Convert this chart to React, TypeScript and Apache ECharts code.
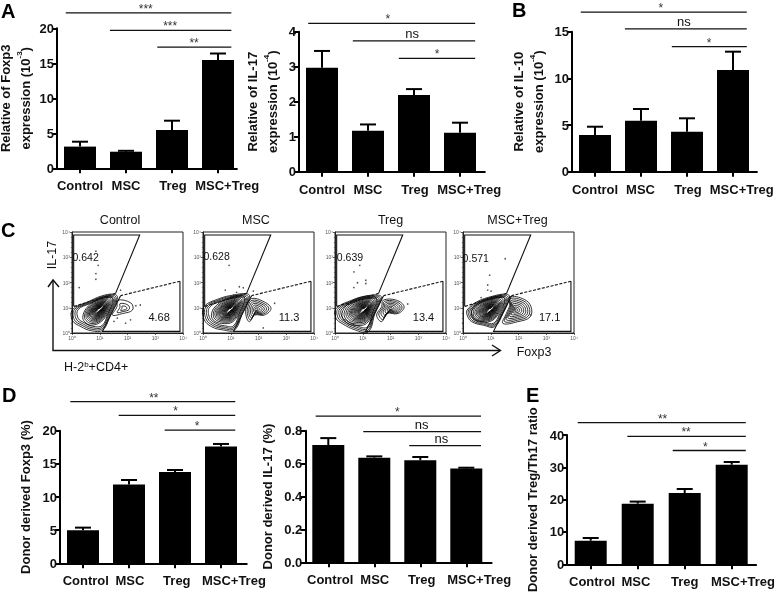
import React, { useEffect, useRef } from "react";
import * as echarts from "echarts";

const FONT = "'Liberation Sans', Arial, sans-serif";
const categories = ["Control", "MSC", "Treg", "MSC+Treg"];
const ticks = [0, 1, 2, 3];

// ---- bar panels: means and upper error tops
const foxp3Mean = [3.1, 2.37, 5.47, 15.47];
const foxp3Top = [3.8, 2.5, 6.8, 16.4];
const il17Mean = [2.97, 1.17, 2.19, 1.11];
const il17Top = [3.45, 1.35, 2.36, 1.4];
const il10Mean = [3.93, 5.47, 4.29, 10.9];
const il10Top = [4.82, 6.72, 5.72, 12.86];
const donorFoxp3Mean = [5.0, 11.9, 13.77, 17.6];
const donorFoxp3Top = [5.38, 12.56, 14.07, 18.0];
const donorIl17Mean = [0.713, 0.636, 0.62, 0.57];
const donorIl17Top = [0.755, 0.644, 0.64, 0.575];
const ratioMean = [7.3, 18.76, 22.06, 30.8];
const ratioTop = [8.14, 19.4, 23.3, 31.65];

// ---- significance brackets: [from, to, value, label, labelX]
const foxp3Sig = [[-0.31, 3.29, 22.2, "***", 1.43], [0.65, 3.29, 19.7, "***", 1.96], [1.68, 3.29, 17.3, "**", 2.48]];
const il17Sig = [[-0.3, 3.33, 4.24, "*", 1.43], [0.67, 3.33, 3.74, "ns", 1.96], [1.67, 3.33, 3.24, "*", 2.5]];
const il10Sig = [[-0.31, 3.3, 17.1, "*", 1.43], [0.65, 3.3, 15.3, "ns", 1.93], [1.67, 3.3, 13.4, "*", 2.48]];
const donorFoxp3Sig = [[-0.275, 3.31, 24.4, "**", 1.54], [0.775, 3.31, 22.3, "*", 2.01], [1.775, 3.31, 20.1, "*", 2.48]];
const donorIl17Sig = [[-0.275, 3.32, 0.889, "*", 1.5], [0.76, 3.32, 0.794, "ns", 2.03], [1.76, 3.32, 0.709, "ns", 2.46]];
const ratioSig = [[-0.277, 3.3, 43.8, "**", 1.53], [0.78, 3.3, 39.6, "**", 2.03], [1.745, 3.3, 35.2, "*", 2.44]];

const panels = [
  { left: 57, top: 28.3, unit: 46, xMax: 3.41, h: 140, yMax: 20, yStep: 5, digits: 0, mean: foxp3Mean, errTop: foxp3Top, sig: foxp3Sig, labelAt: [0, 1, 2.02, 3.2], gap: 20, title: "Relative of Foxp3\n{a|expression (10}{s|-3}{a|)}" },
  { left: 299, top: 31.7, unit: 46, xMax: 3.54, h: 140, yMax: 4, yStep: 1, digits: 0, mean: il17Mean, errTop: il17Top, sig: il17Sig, labelAt: [0, 1, 2.02, 3.2], gap: 17, title: "Relative of IL-17\n{a|expression (10}{s|-4}{a|)}" },
  { left: 572, top: 31.7, unit: 46, xMax: 3.52, h: 140, yMax: 15, yStep: 5, digits: 0, mean: il10Mean, errTop: il10Top, sig: il10Sig, labelAt: [0, 0.99, 2.02, 3.19], gap: 24, title: "Relative of IL-10\n{a|expression (10}{s|-4}{a|)}" },
  { left: 60, top: 430.7, unit: 46, xMax: 3.56, h: 132.6, yMax: 20, yStep: 5, digits: 0, mean: donorFoxp3Mean, errTop: donorFoxp3Top, sig: donorFoxp3Sig, labelAt: [0.06, 1.02, 2.04, 3.28], gap: 25, title: "Donor derived Foxp3 (%)" },
  { left: 305.3, top: 430.7, unit: 46, xMax: 3.55, h: 131.6, yMax: 0.8, yStep: 0.2, digits: 1, mean: donorIl17Mean, errTop: donorIl17Top, sig: donorIl17Sig, labelAt: [0.04, 1.01, 2.03, 3.28], gap: 28, title: "Donor derived IL-17 (%)" },
  { left: 567.2, top: 435, unit: 47, xMax: 3.52, h: 129.3, yMax: 40, yStep: 10, digits: 0, mean: ratioMean, errTop: ratioTop, sig: ratioSig, labelAt: [0.03, 0.96, 2, 3.24], gap: 25, title: "Donor derived Treg/Th17 ratio" },
];

// ---- flow cytometry panels, all in log10 decades
const decadeTicks = ["10⁰", "10¹", "10²", "10³", "10⁴"];
const upperGate = [[0.06, 1.05], [0.06, 3.88], [2.44, 3.88], [1.57, 1.57]];
const upperGateLow = [[1.57, 1.57], [0.06, 1.05]];
const lowerGate = [[1.75, 1.48], [1.1, 0.065], [3.89, 0.065], [3.89, 2.05]];
const lowerGateTop = [[3.89, 2.05], [1.75, 1.48]];

const outerScales = [1, 0.93, 0.86, 0.79];
const innerScales = [1, 0.9, 0.81, 0.73, 0.66, 0.6, 0.55, 0.5, 0.45, 0.41, 0.37, 0.33, 0.29, 0.25, 0.22, 0.19, 0.16, 0.13, 0.1];

const controlOuter = [[0.02, 0.93], [0.57, 1.23], [1.05, 1.46], [1.52, 1.54], [1.64, 1.4], [1.4, 0.77], [1.11, 0.12], [0.69, 0.09], [0.33, 0.25], [0.02, 0.49]];
const controlInner = [[0.39, 0.64], [0.51, 0.97], [0.87, 1.3], [1.35, 1.46], [1.46, 1.33], [1.35, 0.91], [1.05, 0.45], [0.69, 0.31], [0.45, 0.45]];
const controlRight = [[1.64, 1.3], [2.12, 1.19], [2.18, 0.91], [1.82, 0.77], [1.46, 0.71], [1.62, 1.04]];
const controlDots = [[0.86, 3.24], [0.94, 2.68], [0.86, 2.35], [0.86, 2.13], [0.26, 1.8], [1.63, 0.59], [1.93, 0.39], [2.46, 1.11], [2.11, 0.52], [1.51, 0.46], [1.75, 1.7], [2.3, 1.08]];

const mscOuter = [[0.04, 1.04], [0.61, 1.37], [1.08, 1.5], [1.56, 1.56], [1.68, 1.46], [1.44, 0.84], [1.14, 0.12], [0.73, 0.12], [0.31, 0.25], [0.04, 0.54]];
const mscInner = [[0.31, 0.78], [0.49, 1.1], [0.9, 1.37], [1.38, 1.5], [1.5, 1.37], [1.38, 0.97], [1.08, 0.45], [0.67, 0.38], [0.37, 0.51]];
const mscRight = [[1.74, 1.36], [2.21, 1.23], [2.45, 0.97], [2.21, 0.71], [1.86, 0.71], [1.68, 0.45], [1.56, 0.64], [1.56, 1.04]];
const mscDots = [[0.94, 2.68], [0.8, 1.7], [1.31, 1.83], [1.45, 1.79], [1.21, 1.61], [1.81, 1.66], [2.58, 1.18], [2.17, 0.2], [1.1, 1.5]];

const tregOuter = [[0.04, 0.97], [0.61, 1.3], [1.08, 1.46], [1.56, 1.5], [1.68, 1.4], [1.44, 0.77], [1.2, 0.05], [0.73, 0.12], [0.25, 0.38], [0.04, 0.58]];
const tregInner = [[0.25, 0.77], [0.49, 1.17], [0.9, 1.4], [1.38, 1.46], [1.5, 1.3], [1.38, 0.91], [1.14, 0.38], [0.67, 0.31], [0.37, 0.45]];
const tregRight = [[1.74, 1.3], [2.21, 1.3], [2.49, 1.04], [2.27, 0.77], [1.86, 0.77], [1.68, 0.45], [1.5, 0.71], [1.68, 1.04]];
const tregDots = [[0.89, 2.68], [0.68, 2.42], [0.81, 1.99], [0.68, 1.8], [1.11, 2.09], [1.11, 1.96], [2.62, 1.15]];

const bothOuter = [[0.15, 0.91], [0.49, 1.23], [1.08, 1.46], [1.56, 1.54], [1.68, 1.43], [1.44, 0.77], [1.14, 0.25], [0.73, 0.31], [0.31, 0.45], [0.15, 0.71]];
const bothInner = [[0.31, 0.84], [0.49, 1.14], [0.9, 1.37], [1.38, 1.46], [1.5, 1.33], [1.38, 0.97], [1.08, 0.51], [0.67, 0.45], [0.37, 0.58]];
const bothRight = [[1.68, 1.43], [2.21, 1.33], [2.45, 1.04], [2.42, 0.64], [1.98, 0.45], [1.44, 0.38], [1.56, 0.77], [1.68, 1.09]];
const bothDots = [[1.52, 2.94], [0.96, 2.29], [0.89, 1.9], [0.89, 1.7], [1.01, 1.66], [0.65, 1.4], [2.44, 0.72], [0, 0.39]];

const flows = [
  { name: "Control", nameX: 120, left: 72, outer: controlOuter, inner: controlInner, core: [0.98, 0.93], right: controlRight, rightCore: [1.88, 0.97], rightScales: [1, 0.6, 0.3], dots: controlDots, upper: "0.642", upperAt: [0.49, 3.0], lower: "4.68", lowerAt: [3.14, 0.63] },
  { name: "MSC", nameX: 256, left: 203, outer: mscOuter, inner: mscInner, core: [0.96, 0.91], right: mscRight, rightCore: [1.92, 0.93], rightScales: [1, 0.85, 0.7, 0.55, 0.4, 0.25, 0.12], dots: mscDots, upper: "0.628", upperAt: [0.49, 3.03], lower: "11.3", lowerAt: [3.1, 0.63] },
  { name: "Treg", nameX: 390.5, left: 335, outer: tregOuter, inner: tregInner, core: [1.02, 0.91], right: tregRight, rightCore: [2.01, 0.97], rightScales: [1, 0.85, 0.7, 0.55, 0.4, 0.25, 0.12], dots: tregDots, upper: "0.639", upperAt: [0.54, 3.0], lower: "13.4", lowerAt: [3.19, 0.65] },
  { name: "MSC+Treg", nameX: 517.5, left: 463, outer: bothOuter, inner: bothInner, core: [0.96, 0.91], right: bothRight, rightCore: [1.92, 0.91], rightScales: [1, 0.87, 0.74, 0.61, 0.48, 0.35, 0.22, 0.1], dots: bothDots, upper: "0.571", upperAt: [0.46, 2.98], lower: "17.1", lowerAt: [3.12, 0.64] },
];

const flowBox = { top: 232, width: 111, height: 101 };

function buildOption() {
  const grid: any[] = [];
  const xAxis: any[] = [];
  const yAxis: any[] = [];
  const series: any[] = [];

  panels.forEach((p, g) => {
    grid.push({ left: p.left, top: p.top, width: p.unit * (p.xMax + 0.5), height: p.h, containLabel: false, outerBoundsMode: "none" });
    xAxis.push({
      type: "value", gridIndex: g, min: -0.5, max: p.xMax, splitLine: { show: false },
      axisLine: { show: true, onZero: false, lineStyle: { color: "#000", width: 2 } },
      axisTick: { show: true, customValues: ticks, length: 5, lineStyle: { color: "#000", width: 2 } },
      axisLabel: {
        show: true, customValues: p.labelAt, margin: 11, color: "#111",
        fontFamily: FONT, fontWeight: "bold", fontSize: 13,
        formatter: (v: number) => categories[p.labelAt.indexOf(v)] ?? "",
      },
    });
    yAxis.push({
      type: "value", gridIndex: g, min: 0, max: p.yMax, interval: p.yStep, splitLine: { show: false },
      axisLine: { show: true, onZero: false, lineStyle: { color: "#000", width: 2 } },
      axisTick: { show: true, length: 5, lineStyle: { color: "#000", width: 2 } },
      axisLabel: {
        margin: 3, color: "#111", fontFamily: FONT, fontWeight: "bold", fontSize: 13,
        formatter: (v: number) => v.toFixed(p.digits),
      },
      name: p.title, nameLocation: "middle", nameGap: p.gap, nameRotate: 90,
      nameTextStyle: {
        color: "#111", fontFamily: FONT, fontWeight: "bold", fontSize: 13, lineHeight: 20,
        rich: {
          a: { color: "#111", fontFamily: FONT, fontWeight: "bold", fontSize: 13, lineHeight: 20 },
          s: { color: "#111", fontFamily: FONT, fontWeight: "bold", fontSize: 8, lineHeight: 20, verticalAlign: "top" },
        },
      },
    });
    series.push({
      type: "bar", xAxisIndex: g, yAxisIndex: g, barWidth: 32, itemStyle: { color: "#000" },
      encode: { x: 0, y: 1 }, silent: true,
      data: ticks.map((t, i) => [t, p.mean[i]]),
    });
    series.push({
      type: "custom", xAxisIndex: g, yAxisIndex: g, silent: true, encode: { x: 0, y: 1 },
      data: ticks.map((t, i) => [t, p.errTop[i], p.mean[i]]),
      renderItem: (_: any, api: any) => {
        const top = api.coord([api.value(0), api.value(1)]);
        const base = api.coord([api.value(0), api.value(2)]);
        const st = { stroke: "#000", lineWidth: 2 };
        return {
          type: "group",
          children: [
            { type: "line", shape: { x1: top[0], y1: top[1], x2: base[0], y2: base[1] }, style: st },
            { type: "line", shape: { x1: top[0] - 8, y1: top[1], x2: top[0] + 8, y2: top[1] }, style: st },
          ],
        };
      },
    });
    series.push({
      type: "custom", xAxisIndex: g, yAxisIndex: g, silent: true, encode: { x: 0, y: 2 },
      data: p.sig.map((s) => [s[0], s[1], s[2], s[3], s[4]]),
      dimensions: ["from", "to", "v", { name: "label", type: "ordinal" }, "labelX"],
      renderItem: (params: any, api: any) => {
        const s = p.sig[params.dataIndex] as any[];
        const a = api.coord([s[0], s[2]]);
        const b = api.coord([s[1], s[2]]);
        const l = api.coord([s[4], s[2]]);
        const ns = s[3] === "ns";
        return {
          type: "group",
          children: [
            { type: "line", shape: { x1: a[0], y1: a[1], x2: b[0], y2: b[1] }, style: { stroke: "#111", lineWidth: 1.3 } },
            {
              type: "text", x: l[0], y: l[1] - (ns ? 7 : 4),
              style: { text: s[3], fill: ns ? "#111" : "#333", font: `${ns ? 13 : 12}px ${FONT}`, align: "center", verticalAlign: "middle" },
            },
          ],
        };
      },
    });
  });

  flows.forEach((f, k) => {
    const g = panels.length + k;
    grid.push({ left: f.left, top: flowBox.top, width: flowBox.width, height: flowBox.height, show: true, borderColor: "#222", borderWidth: 1, outerBoundsMode: "none" });
    const common = {
      type: "value", gridIndex: g, min: 0, max: 4, interval: 1, splitLine: { show: false },
      axisLine: { show: true, lineStyle: { color: "#222", width: 1 } },
      axisTick: { show: true, length: 2, lineStyle: { color: "#222", width: 0.7 } },
      minorTick: { show: true, splitNumber: 5, length: 1.2, lineStyle: { color: "#444", width: 0.6 } },
      axisLabel: { margin: 2, color: "#555", fontFamily: FONT, fontSize: 5, formatter: (v: number) => decadeTicks[v] },
    };
    xAxis.push({ ...common });
    yAxis.push({ ...common });

    const rows: any[] = [];
    outerScales.forEach((s) => rows.push([f.core[0], f.core[1], s, 0]));
    innerScales.forEach((s) => rows.push([f.core[0], f.core[1], s, 1]));
    f.rightScales.forEach((s) => rows.push([f.rightCore[0], f.rightCore[1], s, 2]));
    const shapes = [f.outer, f.inner, f.right];
    series.push({
      type: "custom", xAxisIndex: g, yAxisIndex: g, silent: true, encode: { x: 0, y: 1 }, data: rows,
      renderItem: (_: any, api: any) => {
        const cx = api.value(0), cy = api.value(1), s = api.value(2);
        const pts = shapes[api.value(3)].map((q: number[]) => api.coord([cx + (q[0] - cx) * s, cy + (q[1] - cy) * s]));
        return { type: "polygon", shape: { points: pts, smooth: 0.4 }, style: { fill: "none", stroke: "#000", lineWidth: 0.8 } };
      },
    });
    const lineOf = (api: any, pts: number[][], dash: any, w: number, stroke = "#111") => ({
      type: "polyline",
      shape: { points: pts.map((q) => api.coord(q)) },
      style: { fill: "none", stroke, lineWidth: w, lineDash: dash },
    });
    series.push({
      type: "custom", xAxisIndex: g, yAxisIndex: g, silent: true, encode: { x: 0, y: 1 },
      data: [[f.core[0], f.core[1]]],
      renderItem: (_: any, api: any) => ({
        type: "group",
        children: [
          lineOf(api, upperGate, null, 1.1),
          lineOf(api, upperGateLow, [3, 1.5], 1.1),
          lineOf(api, lowerGate, null, 1.1),
          lineOf(api, lowerGateTop, [3, 1.5], 1.1),
          lineOf(api, [[f.core[0] - 0.1, f.core[1] - 0.1], [f.core[0] + 0.12, f.core[1] + 0.1]], null, 1, "#fff"),
        ],
      }),
    });
    series.push({
      type: "scatter", xAxisIndex: g, yAxisIndex: g, silent: true, symbolSize: 1.6,
      itemStyle: { color: "#222" }, data: f.dots,
    });
    series.push({
      type: "custom", xAxisIndex: g, yAxisIndex: g, silent: true, encode: { x: 0, y: 1 },
      data: [f.upperAt, f.lowerAt],
      renderItem: (params: any, api: any) => {
        const c = api.coord([api.value(0), api.value(1)]);
        return {
          type: "text", x: c[0], y: c[1],
          style: { text: params.dataIndex === 0 ? f.upper : f.lower, fill: "#111", font: `${params.dataIndex === 0 ? 10.5 : 11}px ${FONT}`, align: "center", verticalAlign: "middle" },
        };
      },
    });
  });

  const letter = (text: string, x: number, y: number) => ({
    type: "text", x, y, style: { text, fill: "#000", font: `bold 20px ${FONT}`, align: "left", verticalAlign: "middle" },
  });
  const plain = (text: string, x: number, y: number, extra: any = {}) => ({
    type: "text", x, y, ...extra,
    style: { text, fill: "#111", font: `12.5px ${FONT}`, align: "center", verticalAlign: "middle" },
  });
  const arrowStyle = { fill: "none", stroke: "#111", lineWidth: 1.4 };
  const graphic: any[] = [
    letter("A", 1, 11), letter("B", 512, 10), letter("C", 1, 230), letter("D", 2, 395), letter("E", 526, 395),
    ...flows.map((f) => plain(f.name, f.nameX, 220)),
    plain("IL-17", 52, 255, { rotation: Math.PI / 2 }),
    plain("Foxp3", 534, 352),
    {
      type: "text", x: 64, y: 367,
      style: {
        text: "{a|H-2}{s|b}{a|+CD4+}", align: "left", verticalAlign: "middle",
        rich: {
          a: { font: `12.5px ${FONT}`, fill: "#111", lineHeight: 14 },
          s: { font: `8px ${FONT}`, fill: "#111", lineHeight: 14, verticalAlign: "top" },
        },
      },
    },
    { type: "polyline", shape: { points: [[53, 281], [53, 350.5], [500, 350.5]] }, style: arrowStyle },
    { type: "polyline", shape: { points: [[48, 287], [53, 280], [59, 287]] }, style: arrowStyle },
    { type: "polyline", shape: { points: [[492, 345], [500.5, 350.5], [492, 356]] }, style: arrowStyle },
  ];

  return { animation: false, backgroundColor: "#fff", grid, xAxis, yAxis, series, graphic };
}

export default function App() {
  const ref = useRef<HTMLDivElement>(null);
  useEffect(() => {
    const chart = echarts.init(ref.current!, undefined, { renderer: "svg" });
    chart.setOption(buildOption() as any);
    return () => chart.dispose();
  }, []);
  return <div ref={ref} style={{ position: "absolute", left: 0, top: 0, width: 777, height: 592, filter: "blur(0.3px)" }} />;
}
